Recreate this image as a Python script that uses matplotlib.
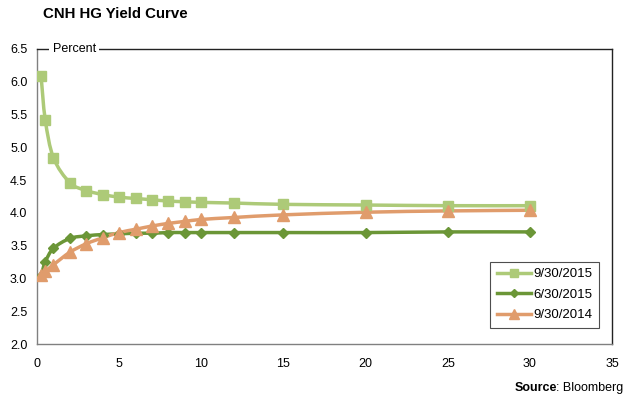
import numpy as np
import matplotlib.pyplot as plt
from matplotlib.path import Path
from matplotlib.patches import PathPatch

plt.rcParams['font.family'] = ['Liberation Sans', 'DejaVu Sans']

# Tenor in years
tenors = [0.25, 0.5, 1, 2, 3, 4, 5, 6, 7, 8, 9, 10, 12, 15, 20, 25, 30]

# Yields in percent
y_2015_09 = [6.08, 5.42, 4.84, 4.46, 4.34, 4.28, 4.24, 4.22, 4.20, 4.18, 4.17, 4.16,
             4.15, 4.13, 4.12, 4.11, 4.11]
y_2015_06 = [3.04, 3.25, 3.46, 3.61, 3.65, 3.67, 3.68, 3.69, 3.69, 3.70, 3.70, 3.70,
             3.70, 3.70, 3.70, 3.71, 3.71]
y_2014_09 = [3.05, 3.11, 3.21, 3.40, 3.53, 3.62, 3.70, 3.75, 3.80, 3.84, 3.87, 3.90,
             3.93, 3.97, 4.01, 4.03, 4.04]

series = [
    ('9/30/2015', y_2015_09, '#ADCA78', 's', 7.5),
    ('6/30/2015', y_2015_06, '#6B9637', 'D', 5),
    ('9/30/2014', y_2014_09, '#E09C6C', '^', 8),
]


def smooth_path(x, y):
    # Excel-like smoothed line: cubic bezier segments with Catmull-Rom tangents
    x = np.asarray(x, float)
    y = np.asarray(y, float)
    pts = np.column_stack([x, y])
    verts = [pts[0]]
    codes = [Path.MOVETO]
    n = len(pts)
    for i in range(n - 1):
        p0 = pts[i - 1] if i > 0 else pts[i]
        p1 = pts[i]
        p2 = pts[i + 1]
        p3 = pts[i + 2] if i + 2 < n else pts[i + 1]
        c1 = p1 + (p2 - p0) / 6.0
        c2 = p2 - (p3 - p1) / 6.0
        verts += [c1, c2, p2]
        codes += [Path.CURVE4] * 3
    return Path(verts, codes)


fig = plt.figure(figsize=(6.33, 4.01), dpi=100)
ax = fig.add_axes([0.0585, 0.142, 0.9085, 0.736])

for label, ys, color, marker, ms in series:
    ax.add_patch(PathPatch(smooth_path(tenors, ys), facecolor='none', edgecolor=color,
                           lw=2.5, zorder=2))
    ax.plot(tenors, ys, linestyle='none', marker=marker, color=color, markersize=ms,
            markeredgecolor=color, zorder=3)
    ax.plot([], [], color=color, lw=2.5, marker=marker, markersize=ms * 0.85,
            label=label)

ax.set_xlim(0, 35)
ax.set_ylim(2.0, 6.5)
ax.set_xticks(np.arange(0, 36, 5))
ax.set_yticks(np.arange(2.0, 6.51, 0.5))
ax.yaxis.set_major_formatter(plt.FormatStrFormatter('%.1f'))
ax.tick_params(length=0, labelsize=9, pad=7)
ax.tick_params(axis='x', pad=10)

for side in ['left', 'bottom']:
    ax.spines[side].set_color('#808080')
for side in ['top', 'right']:
    ax.spines[side].set_color('#222222')
for s in ax.spines.values():
    s.set_linewidth(1.0)

ax.text(0.027, 1.0, 'Percent', transform=ax.transAxes, fontsize=9, va='center',
        ha='left', bbox=dict(facecolor='white', edgecolor='none', pad=2.5), zorder=5,
        clip_on=False)

leg = ax.legend(loc='lower right', bbox_to_anchor=(0.977, 0.055), fontsize=9.5,
                frameon=True, fancybox=False, handlelength=2.6, borderpad=0.5,
                labelspacing=0.62, handletextpad=0.15, borderaxespad=0)
leg.get_frame().set_edgecolor('#222222')
leg.get_frame().set_linewidth(0.8)

fig.text(0.068, 0.965, 'CNH HG Yield Curve', fontsize=10.8, fontweight='bold',
         ha='left', va='center')

src = fig.text(0.984, 0.033, ': Bloomberg', fontsize=9, ha='right', va='center')
fig.canvas.draw()
bb = src.get_window_extent()
fig.text((bb.x0 + 1) / fig.bbox.width, 0.033, 'Source', fontsize=9, fontweight='bold',
         ha='right', va='center')

fig.savefig('out.png', dpi=100)
